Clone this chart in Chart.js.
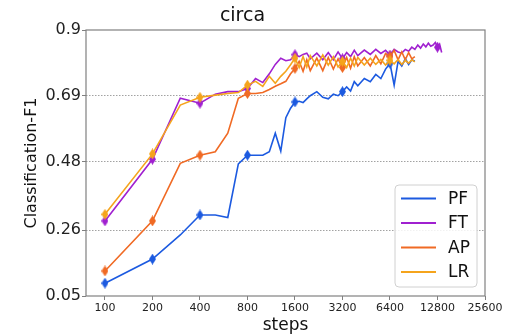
<!DOCTYPE html>
<html><head><meta charset="utf-8">
<script src="https://cdn.jsdelivr.net/npm/chart.js@4/dist/chart.umd.min.js"></script>
<style>html,body{margin:0;padding:0;background:#fff;} canvas{display:block;}</style>
</head><body>
<canvas id="c" width="508" height="334" style="width:508px;height:334px"></canvas>
<script>
const chartTitle = 'circa';
const xTitle = 'steps';
const yTitle = 'Classification-F1';
const steps = [100,200,300,400,500,600,700,800,900,1000,1100,1200,1300,1400,1500,1600,1700,1800,1900,2000,
  2200,2400,2600,2800,3000,3200,3400,3600,3800,4000,
  4400,4800,5200,5600,6000,6400,6800,7200,7600,8000,8400,8800,9200,
  9600,10000,10400,10800,11200,11600,12000,12400,12800,13200,13600];
const xTicks = [100,200,400,800,1600,3200,6400,12800,25600];
const markerSteps = [100,200,400,800,1600,3200,6400,12800];
const yTicks = [0.05,0.26,0.48,0.69,0.9];
const yTickLabels = ['0.05','0.26','0.48','0.69','0.9'];
const seriesNames = ['PF','FT','AP','LR'];
const seriesColors = ['#1c5ae0','#a020d0','#f06a24','#f5a41c'];
const pfVals = [0.091,0.168,0.245,0.309,0.309,0.301,0.472,0.500,0.500,0.500,0.511,0.570,0.513,0.620,0.650,0.670,0.672,0.668,0.680,0.690,
  0.703,0.685,0.680,0.695,0.690,0.703,0.718,0.705,0.735,0.722,
  0.745,0.735,0.758,0.745,0.775,0.793,0.724,0.800,0.785,0.808,0.790,0.805,0.800];
const ftVals = [0.290,0.487,0.682,0.666,0.695,0.703,0.703,0.713,0.745,0.732,0.760,0.790,0.810,0.802,0.805,0.821,0.815,0.822,0.826,0.808,
  0.826,0.805,0.828,0.805,0.830,0.808,0.828,0.815,0.835,0.818,
  0.836,0.822,0.838,0.825,0.835,0.820,0.838,0.830,0.826,0.838,0.832,0.845,0.838,
  0.852,0.842,0.855,0.846,0.858,0.848,0.852,0.860,0.845,0.855,0.828];
const apVals = [0.130,0.290,0.474,0.500,0.511,0.570,0.682,0.697,0.697,0.700,0.710,0.720,0.728,0.736,0.760,0.777,0.800,0.768,0.805,0.770,
  0.810,0.770,0.812,0.775,0.808,0.780,0.812,0.778,0.815,0.785,
  0.812,0.785,0.818,0.792,0.825,0.815,0.835,0.805,0.830,0.805,0.828,0.808,0.815];
const lrVals = [0.311,0.504,0.660,0.685,0.692,0.697,0.700,0.724,0.736,0.720,0.752,0.730,0.752,0.768,0.789,0.810,0.780,0.815,0.782,0.818,
  0.785,0.820,0.788,0.815,0.782,0.800,0.780,0.810,0.785,0.812,
  0.788,0.810,0.790,0.806,0.788,0.803,0.792,0.806,0.790,0.803,0.794,0.805,0.798];
const allVals = [pfVals, ftVals, apVals, lrVals];

const FONT = "'DejaVu Sans', 'Liberation Sans', sans-serif";

function diamond(color){
  const c = document.createElement('canvas');
  c.width = 7; c.height = 11;
  const g = c.getContext('2d');
  g.fillStyle = color;
  g.beginPath(); g.moveTo(3.5,0); g.lineTo(7,5.5); g.lineTo(3.5,11); g.lineTo(0,5.5); g.closePath(); g.fill();
  return c;
}

const datasets = seriesNames.map((name, k) => ({
  label: name,
  data: allVals[k].map((v, i) => ({x: steps[i], y: v})),
  borderColor: seriesColors[k],
  backgroundColor: seriesColors[k],
  borderWidth: 1.6,
  tension: 0,
  fill: false,
  pointStyle: diamond(seriesColors[k]),
  pointRadius: ctx => (ctx.raw && markerSteps.includes(ctx.raw.x)) ? 4 : 0,
  pointHoverRadius: 0,
  order: 3 - k
}));

const boxPlugin = {
  id: 'boxPlugin',
  afterDraw(chart) {
    const a = chart.chartArea, g = chart.ctx;
    g.save();
    g.strokeStyle = '#808080'; g.lineWidth = 1.2;
    g.strokeRect(a.left, a.top, a.right - a.left, a.bottom - a.top);
    // legend
    const lx = 395, ly = 185, lw = 82, lh = 102, r = 4;
    g.fillStyle = 'rgba(255,255,255,0.85)';
    g.strokeStyle = '#d0d0d0'; g.lineWidth = 1;
    g.beginPath();
    g.moveTo(lx + r, ly); g.lineTo(lx + lw - r, ly); g.arcTo(lx + lw, ly, lx + lw, ly + r, r);
    g.lineTo(lx + lw, ly + lh - r); g.arcTo(lx + lw, ly + lh, lx + lw - r, ly + lh, r);
    g.lineTo(lx + r, ly + lh); g.arcTo(lx, ly + lh, lx, ly + lh - r, r);
    g.lineTo(lx, ly + r); g.arcTo(lx, ly, lx + r, ly, r);
    g.closePath(); g.fill(); g.stroke();
    chart.data.datasets.forEach((ds, i) => {
      const y = 198.5 + i * 24.5;
      g.strokeStyle = ds.borderColor; g.lineWidth = 2;
      g.beginPath(); g.moveTo(401, y); g.lineTo(436, y); g.stroke();
      g.fillStyle = '#111';
      g.font = '17px ' + FONT;
      g.textAlign = 'left'; g.textBaseline = 'middle';
      g.fillText(ds.label, 448, y + 1);
    });
    g.restore();
  }
};

new Chart(document.getElementById('c'), {
  type: 'line',
  data: { datasets },
  plugins: [boxPlugin],
  options: {
    responsive: false,
    animation: false,
    events: [],
    devicePixelRatio: 1,
    layout: { padding: { left: 0, right: 23, top: 0, bottom: 0 } },
    plugins: {
      legend: { display: false },
      tooltip: { enabled: false },
      title: {
        display: true, text: chartTitle, color: '#111',
        font: { family: FONT, size: 19, weight: 'normal', lineHeight: 1.2 },
        padding: { top: 5, bottom: 2.2 }
      }
    },
    scales: {
      x: {
        type: 'logarithmic',
        min: 75.8, max: 25600,
        afterBuildTicks: s => { s.ticks = xTicks.map(v => ({ value: v })); },
        afterFit: s => { s.height = 38; },
        ticks: {
          autoSkip: false, maxRotation: 0, minRotation: 0, padding: 2,
          color: '#222', font: { family: FONT, size: 11 },
          callback: (v, i) => String(xTicks[i])
        },
        grid: { drawOnChartArea: false, drawTicks: true, tickLength: 4, tickColor: '#808080', tickWidth: 1 },
        border: { display: false },
        title: {
          display: true, text: xTitle, color: '#111',
          font: { family: FONT, size: 17, lineHeight: 1.0 },
          padding: { top: 0, bottom: 0 }
        }
      },
      y: {
        type: 'linear',
        min: 0.05, max: 0.9,
        afterBuildTicks: s => { s.ticks = yTicks.map(v => ({ value: v })); },
        afterFit: s => { s.width = 86; },
        ticks: {
          autoSkip: false, padding: 1,
          color: '#222', font: { family: FONT, size: 16 },
          callback: (v, i) => yTickLabels[i]
        },
        grid: {
          drawOnChartArea: true, drawTicks: true, tickLength: 4,
          color: c => (c.index > 0 && c.index < yTicks.length - 1) ? '#8a8a8a' : 'rgba(0,0,0,0)',
          lineWidth: 0.8,
          tickColor: '#808080', tickWidth: 1, tickBorderDash: []
        },
        border: { display: false, dash: [1.5, 1.5] },
        title: {
          display: true, text: yTitle, color: '#111',
          font: { family: FONT, size: 16, lineHeight: 1.2 },
          padding: { top: 22, bottom: 0 }
        }
      }
    }
  }
});
</script>
</body></html>
